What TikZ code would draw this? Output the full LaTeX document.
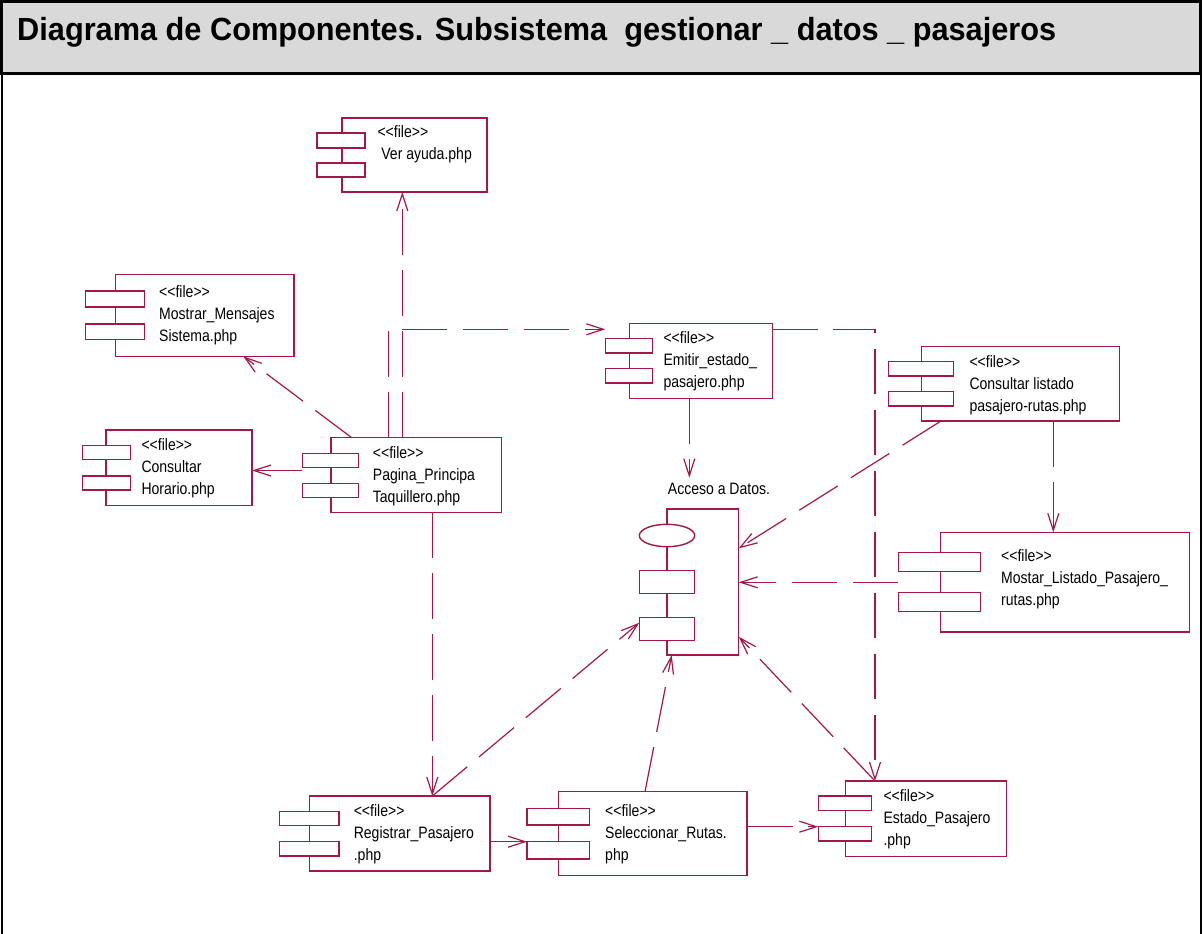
\documentclass[tikz,border=0pt]{standalone}
\usepackage{fontspec}
\setmainfont{Liberation Sans}
\newfontfamily\compfont[FakeStretch=0.85]{Liberation Sans}
\newfontfamily\titlefont[FakeStretch=0.96]{Liberation Sans}
\usetikzlibrary{arrows.meta,calc,shapes.geometric}

\definecolor{rose}{RGB}{163,24,72}
\definecolor{band}{RGB}{217,217,217}

\tikzset{
  body/.style={draw=rose, line width=1.4pt, fill=white, inner sep=0pt, outer sep=0pt, rectangle},
  tabbox/.style={draw=rose, line width=1.4pt, fill=white, inner sep=0pt, outer sep=0pt, rectangle},
  % anchored at the baseline of the last line
  ctext/.style={anchor=base west, align=left, inner sep=0pt, text=black,
    font=\compfont\fontsize{16.5}{22}\selectfont},
  barb/.tip={Straight Barb[length=17pt,width=11pt]},
  dep/.style={draw=rose, line width=1.2pt, dash pattern=on 45.5pt off 15.5pt, -barb},
}

% body rectangle of a component: name, left, top, right, bottom
\newcommand\bodybox[5]{%
  \pgfmathsetmacro\bw{#4-#2}\pgfmathsetmacro\bh{#5-#3}%
  \node[body, minimum width=\bw pt, minimum height=\bh pt] (#1) at ({(#2+#4)/2},{(#3+#5)/2}) {};}
% the two small tabs: name, left, right, top1, bottom1, top2, bottom2
\newcommand\tabpair[7]{%
  \pgfmathsetmacro\tw{#3-#2}\pgfmathsetmacro\thA{#5-#4}\pgfmathsetmacro\thB{#7-#6}%
  \node[tabbox, minimum width=\tw pt, minimum height=\thA pt] (#1a) at ({(#2+#3)/2},{(#4+#5)/2}) {};
  \node[tabbox, minimum width=\tw pt, minimum height=\thB pt] (#1b) at ({(#2+#3)/2},{(#6+#7)/2}) {};}
\newcommand\fileSt{<\kern0pt<file>\kern0pt>}

\begin{document}
\begin{tikzpicture}[x=1pt,y=-1pt]
\useasboundingbox (0,0) rectangle (1203,934);

% frame and title band
\draw[line width=2pt] (1.5,74) -- (1.5,934);
\draw[line width=2pt] (1200.5,74) -- (1200.5,934);
\draw[line width=3pt, fill=band] (1.5,1.5) rectangle (1200.5,74);
\node[anchor=base west, inner sep=0pt, font=\titlefont\bfseries\fontsize{32}{32}\selectfont] (title) at (17,41)
  {Diagrama de Componentes. Subsistema\ \ gestionar \_ datos \_ pasajeros};

% components
\bodybox{ver}{342}{118}{487}{192}
\tabpair{vert}{317}{365}{133}{148}{163}{177}
\node[ctext] (vertx) at (377.3,159.5) {\fileSt\\\ Ver ayuda.php};

\bodybox{mos}{115.7}{274.7}{294}{356.3}
\tabpair{most}{85.7}{144.3}{291}{307}{324}{339.3}
\node[ctext] (mostx) at (159,341) {\fileSt\\Mostrar\_Mensajes\\Sistema.php};

\bodybox{hor}{106}{430}{252}{505.7}
\tabpair{hort}{82.3}{130.3}{445.3}{459.3}{476}{490}
\node[ctext] (hortx) at (141.3,494.3) {\fileSt\\Consultar\\Horario.php};

\bodybox{pag}{331}{437.7}{501.3}{512.3}
\tabpair{pagt}{302.3}{358.7}{453.3}{467.3}{483.3}{497.7}
\node[ctext] (pagtx) at (372.7,502.5) {\fileSt\\Pagina\_Principa\\Taquillero.php};

\bodybox{emi}{629.3}{323.7}{772.3}{398.3}
\tabpair{emit}{605.3}{652.7}{338.7}{353}{368.7}{383}
\node[ctext] (emitx) at (663.3,387.3) {\fileSt\\Emitir\_estado\_\\pasajero.php};

\bodybox{con}{921.7}{346.7}{1119.3}{421}
\tabpair{cont}{888.3}{953.3}{361.7}{376}{391.7}{406}
\node[ctext] (contx) at (969.3,411) {\fileSt\\Consultar listado\\pasajero-rutas.php};

\bodybox{mst}{940.3}{532.3}{1189.3}{632}
\tabpair{mstt}{898.3}{980.7}{552.3}{571.3}{592.3}{611.7}
\node[ctext] (msttx) at (1001,605.7) {\fileSt\\Mostar\_Listado\_Pasajero\_\\rutas.php};

\bodybox{reg}{309.6}{796}{490}{871}
\tabpair{regt}{279.6}{338.9}{811.7}{825.7}{841.7}{856}
\node[ctext] (regtx) at (353.6,860) {\fileSt\\Registrar\_Pasajero\\.php};

\bodybox{sel}{558.7}{791.7}{747}{875.7}
\tabpair{selt}{527}{589.6}{808.3}{825}{841.7}{859}
\node[ctext] (seltx) at (605,860) {\fileSt\\Seleccionar\_Rutas.\\php};

\bodybox{est}{845.3}{781}{1006.7}{856.7}
\tabpair{estt}{818.3}{871.7}{796}{810.3}{826.7}{841}
\node[ctext] (esttx) at (883.3,845) {\fileSt\\Estado\_Pasajero\\.php};

% data access package
\bodybox{acc}{667}{509}{738.7}{655}
\node[draw=rose, line width=1.4pt, fill=white, ellipse, inner sep=0pt, outer sep=0pt,
  minimum width=55.4pt, minimum height=22.4pt] (accel) at (667,535.5) {};
\node[tabbox, minimum width=55.4pt, minimum height=23pt] (acca) at (667,582.2) {};
\node[tabbox, minimum width=55.4pt, minimum height=23pt] (accb) at (667,629.2) {};
\node[ctext] (acctx) at (667.7,494) {Acceso a Datos.};

% dependencies
\draw[dep] ($(pag.north west)+(71.3,0)$) -- ($(ver.south west)+(60.3,0)$);
\draw[dep] ($(pag.north west)+(57.3,0)$) |- ($(emita.north west)+(0,-9.4)$);
\draw[dep] ($(emi.north east)+(0,5.6)$) -| ($(est.north west)+(29.7,0)$);
\draw[dep] ($(emi.south west)+(60,0)$) -- ($(acc.north west)+(22.3,-31.3)$);
\draw[dep] ($(pag.north west)+(20.7,0)$) -- ($(mos.south west)+(127.6,0)$);
\draw[dep] ($(pagta.south west)+(0,3.2)$) -- ($(hor.north east)+(0,40.5)$);
\draw[dep] ($(pag.south west)+(101.3,0)$) -- ($(reg.north west)+(122.7,0)$);
\draw[dep] ($(reg.north west)+(122.7,0)$) -- ($(accb.north west)+(0,5)$);
\draw[dep] ($(sel.north west)+(86.3,0)$) -- ($(acc.south west)+(4.7,0)$);
\draw[dep] ($(est.north west)+(29.7,0)$) -- ($(acc.south east)+(0,-18.3)$);
\draw[dep] (sel.east |- esttb.north west) -- (esttb.north west);
\draw[dep] (reg.east |- seltb.north west) -- (seltb.north west);
\draw[dep] ($(con.south west)+(19.3,0)$) -- ($(acc.north east)+(0,39.3)$);
\draw[dep] ($(con.south west)+(131.6,0)$) -- ($(mst.north west)+(113,0)$);
\draw[dep] ($(mstta.south west)+(0,11)$) -- ($(acc.north east)+(0,73.3)$);
\end{tikzpicture}
\end{document}
